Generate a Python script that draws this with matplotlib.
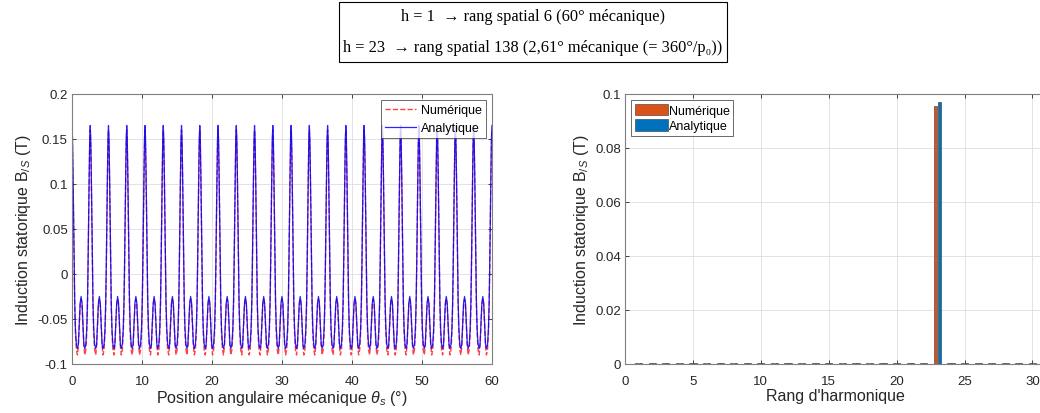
import numpy as np
import matplotlib.pyplot as plt
from matplotlib.patches import Rectangle
from matplotlib.ticker import FuncFormatter

# one spatial period of the flux density
# (phase within the period, value in T); the curve repeats 23 times over 60 deg
n_periods = 23
theta_max = 60
phase = [0.00, 0.03, 0.06, 0.09, 0.12, 0.15, 0.19, 0.24, 0.30, 0.35, 0.40, 0.45, 0.50,
         0.55, 0.60, 0.65, 0.70, 0.76, 0.81, 0.85, 0.88, 0.91, 0.94, 0.97]
b_analytique = [0.165, 0.150, 0.110, 0.060, 0.010, -0.030, -0.060, -0.078, -0.083, -0.078,
                -0.055, -0.032, -0.025, -0.032, -0.055, -0.078, -0.083, -0.078, -0.060,
                -0.030, 0.010, 0.060, 0.110, 0.150]
b_numerique = [0.160, 0.140, 0.105, 0.055, 0.005, -0.035, -0.066, -0.084, -0.090, -0.080,
               -0.058, -0.034, -0.028, -0.034, -0.058, -0.080, -0.090, -0.084, -0.066,
               -0.035, 0.005, 0.055, 0.105, 0.140]

# harmonic spectrum (right plot)
rangs = list(range(1, 31))
spec_numerique = [0.0004] * 30
spec_analytique = [0.0004] * 30
spec_numerique[22] = 0.0955
spec_analytique[22] = 0.0970

left_xticks = [0, 10, 20, 30, 40, 50, 60]
left_yticks = [-0.1, -0.05, 0, 0.05, 0.1, 0.15, 0.2]
right_xticks = [0, 5, 10, 15, 20, 25, 30]
right_yticks = [0, 0.02, 0.04, 0.06, 0.08, 0.1]

titre_1 = "h = 1  \u2192 rang spatial 6 (60\u00b0 m\u00e9canique)"
titre_2 = "h = 23  \u2192 rang spatial 138 (2,61\u00b0 m\u00e9canique (= 360\u00b0/p\u2080))"

plt.rcParams['font.family'] = ['Liberation Sans', 'DejaVu Sans']
plt.rcParams['mathtext.fontset'] = 'custom'
plt.rcParams['mathtext.rm'] = 'Liberation Sans'
plt.rcParams['mathtext.it'] = 'Liberation Sans:italic'

# tile the period profile over the 60 degrees
period = theta_max / n_periods
theta = []
ana = []
num = []
for k in range(n_periods):
    for p, a, n in zip(phase, b_analytique, b_numerique):
        theta.append((k + p) * period)
        ana.append(a)
        num.append(n)
theta.append(theta_max)
ana.append(b_analytique[0])
num.append(b_numerique[0])

fig = plt.figure(figsize=(10.4, 4.14), dpi=100)
ax1 = fig.add_axes([0.0692, 0.1184, 0.4038, 0.6522])
ax2 = fig.add_axes([0.601, 0.1184, 0.4048, 0.6522])

grey = '#262626'
fmt = FuncFormatter(lambda v, _: '0' if abs(v) < 1e-9 else f'{v:g}')


def style(ax):
    ax.grid(True, color='#dedede', linewidth=0.6)
    ax.set_axisbelow(True)
    ax.tick_params(direction='in', top=True, right=True, length=3,
                   labelsize=9.5, colors=grey, width=0.6, pad=3)
    ax.tick_params(axis='x', pad=8)
    for s in ax.spines.values():
        s.set_color('#7f7f7f')
        s.set_linewidth(0.8)
    ax.yaxis.set_major_formatter(fmt)


ax1.plot(theta, num, color='red', linestyle='--', linewidth=1.0, alpha=0.75, label='Num\u00e9rique')
ax1.plot(theta, ana, color='blue', linewidth=0.9, alpha=0.85, label='Analytique')
ax1.set_xlim(0, theta_max)
ax1.set_ylim(-0.1, 0.2)
ax1.set_xticks(left_xticks)
ax1.set_yticks(left_yticks)
style(ax1)
ax1.set_xlabel('Position angulaire m\u00e9canique $\\theta_s$ (\u00b0)', fontsize=11.5, color=grey, labelpad=1)
ax1.set_ylabel('Induction statorique B$_{/S}$ (T)', fontsize=11.5, color=grey, labelpad=3)
leg1 = ax1.legend(loc='upper right', fontsize=9, frameon=True, fancybox=False,
                  borderpad=0.3, handlelength=2.5, handletextpad=0.4, borderaxespad=0.5)
leg1.get_frame().set_edgecolor(grey)
leg1.get_frame().set_linewidth(0.6)

w = 0.25
x = np.array(rangs)
ax2.bar(x - 0.14, spec_numerique, width=w, color='#D95319', edgecolor='#333333', linewidth=0.4, label='Num\u00e9rique')
ax2.bar(x + 0.14, spec_analytique, width=w, color='#0072BD', edgecolor='#333333', linewidth=0.4, label='Analytique')
ax2.set_xlim(0, 31)
ax2.set_ylim(0, 0.1)
ax2.set_xticks(right_xticks)
ax2.set_yticks(right_yticks)
style(ax2)
ax2.set_xlabel("Rang d'harmonique", fontsize=11.5, color=grey, labelpad=1)
ax2.set_ylabel('Induction statorique B$_{/S}$ (T)', fontsize=11.5, color=grey, labelpad=3)
leg2 = ax2.legend(loc='upper left', fontsize=9, frameon=True, fancybox=False,
                  borderpad=0.3, handlelength=2.6, handleheight=1.0, handletextpad=0.1,
                  borderaxespad=0.5, labelspacing=0.2)
leg2.get_frame().set_edgecolor(grey)
leg2.get_frame().set_linewidth(0.6)

# header box
fig.patches.append(Rectangle((339 / 1040, 1 - 63 / 414), 388 / 1040, 60 / 414,
                             transform=fig.transFigure, fill=False, edgecolor='black', linewidth=0.8))
serif = ['Liberation Serif', 'DejaVu Serif']
fig.text(533 / 1040, 1 - 17 / 414, titre_1, ha='center', va='center', fontsize=11.8, family=serif)
fig.text(533 / 1040, 1 - 48 / 414, titre_2, ha='center', va='center', fontsize=11.8, family=serif)

fig.savefig('out.png', dpi=100)
